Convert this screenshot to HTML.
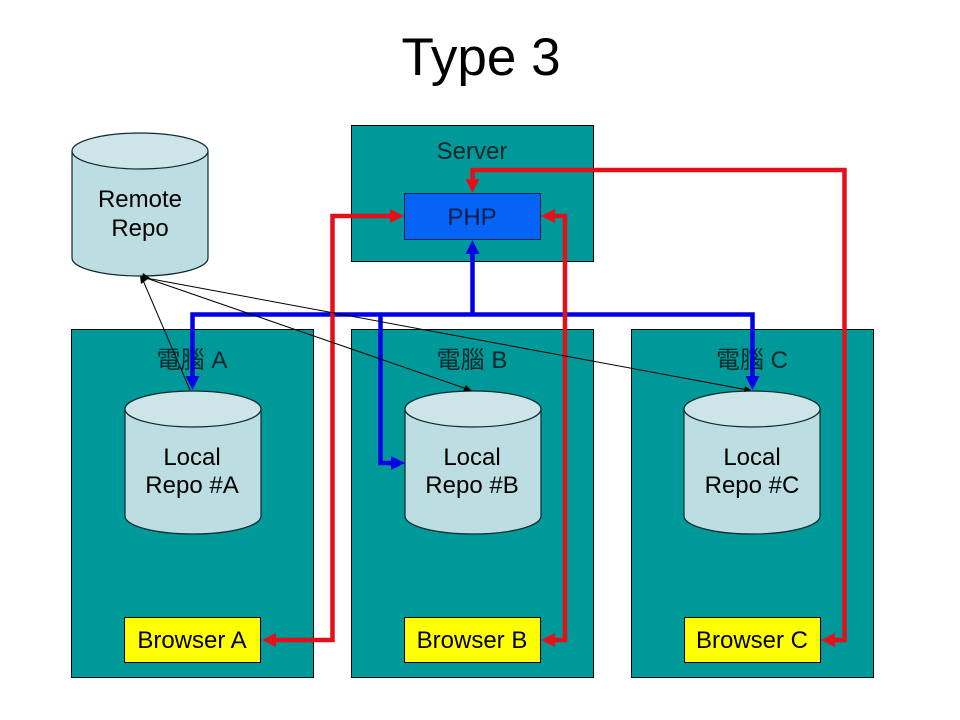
<!DOCTYPE html>
<html>
<head>
<meta charset="utf-8">
<style>
html,body{margin:0;padding:0;background:#fff;width:960px;height:720px;overflow:hidden}
svg{display:block}
text{font-family:"Liberation Sans","Noto Sans CJK TC",sans-serif;fill:#000;text-anchor:middle}
.b{fill:#009999;stroke:#000;stroke-width:1}
.c{fill:#bcdde2;stroke:#0c2a30;stroke-width:1.2}
.t{fill:#cde4e8;stroke:#0c2a30;stroke-width:1.2}
.r{fill:none;stroke:#e3101a;stroke-width:4.500}
.u{fill:none;stroke:#0000e6;stroke-width:4.500}
.k{fill:none;stroke:#000;stroke-width:1}
.l{font-size:24px}
.d{font-size:24px;fill:#03262a}
</style>
</head>
<body>
<svg width="960" height="720" viewBox="0 0 960 720" xmlns="http://www.w3.org/2000/svg">
<text x="481" y="75" font-size="53">Type 3</text>

<rect class="b" x="351.500" y="125.500" width="242" height="136"/>
<rect class="b" x="71.500" y="329.500" width="242" height="348"/>
<rect class="b" x="351.500" y="329.500" width="242" height="348"/>
<rect class="b" x="631.500" y="329.500" width="242" height="348"/>

<text class="d" x="472" y="159">Server</text>
<text class="d" x="192" y="368">電腦 A</text>
<text class="d" x="472" y="368">電腦 B</text>
<text class="d" x="752" y="368">電腦 C</text>

<rect x="404.500" y="193.500" width="136" height="46" fill="#0563f5" stroke="#0a2050"/>
<text class="l" x="472" y="225" style="fill:#06204a">PHP</text>

<!-- Remote cylinder -->
<path class="c" d="M72 151V258C72 268 102 276 140 276S208 268 208 258V151Z"/>
<ellipse class="t" cx="140" cy="151" rx="68" ry="18"/>
<text class="l" x="140" y="207">Remote</text>
<text class="l" x="140" y="236">Repo</text>

<!-- Local cylinders -->
<path class="c" d="M125 409V516C125 526 155 534 193 534S261 526 261 516V409Z"/>
<ellipse class="t" cx="193" cy="409" rx="68" ry="18"/>
<text class="l" x="192" y="465">Local</text>
<text class="l" x="192" y="493">Repo #A</text>

<path class="c" d="M405 409V516C405 526 435 534 473 534S541 526 541 516V409Z"/>
<ellipse class="t" cx="473" cy="409" rx="68" ry="18"/>
<text class="l" x="472" y="465">Local</text>
<text class="l" x="472" y="493">Repo #B</text>

<path class="c" d="M684 409V516C684 526 714 534 752 534S820 526 820 516V409Z"/>
<ellipse class="t" cx="752" cy="409" rx="68" ry="18"/>
<text class="l" x="752" y="465">Local</text>
<text class="l" x="752" y="493">Repo #C</text>

<!-- Browsers -->
<rect x="124.500" y="617.500" width="136" height="45" fill="#ffff00" stroke="#000"/>
<rect x="404.500" y="617.500" width="136" height="45" fill="#ffff00" stroke="#000"/>
<rect x="684.500" y="617.500" width="136" height="45" fill="#ffff00" stroke="#000"/>
<text class="l" x="192" y="648">Browser A</text>
<text class="l" x="472" y="648">Browser B</text>
<text class="l" x="752" y="648">Browser C</text>

<!-- Blue connectors -->
<path class="u" d="M192.500 380V314.500H752.500V380"/>
<path class="u" d="M472.500 314.500V250"/>
<path class="u" d="M380.500 314.500V463H394"/>
<polygon points="472.500,240 465.500,254 479.500,254" fill="#0000e6"/>
<polygon points="192.500,390 185.500,376 199.500,376" fill="#0000e6"/>
<polygon points="752.500,390 745.500,376 759.500,376" fill="#0000e6"/>
<polygon points="405,463 391,456 391,470" fill="#0000e6"/>

<!-- Red connectors -->
<path class="r" d="M272 640H332.500V216H394"/>
<path class="r" d="M551 640H565V216H551"/>
<path class="r" d="M831 640H844.500V170H472.500V183"/>
<polygon points="262,640 276,633 276,647" fill="#e3101a"/>
<polygon points="541,640 555,633 555,647" fill="#e3101a"/>
<polygon points="821,640 835,633 835,647" fill="#e3101a"/>
<polygon points="404,216 390,209 390,223" fill="#e3101a"/>
<polygon points="541,216 555,209 555,223" fill="#e3101a"/>
<polygon points="472.500,193 465.500,179 479.500,179" fill="#e3101a"/>

<!-- Thin black connectors -->
<path class="k" d="M142 278L190 390"/>
<path class="k" d="M146 278L470 390"/>
<path class="k" d="M146 278L748 390"/>
<polygon points="140,276 148,279 141,284" fill="#000"/>
<polygon points="150,278 143,273 141,281" fill="#000"/>
<polygon points="472,391 463,391 466,385" fill="#000"/>
<polygon points="751,390 744,392 745,386" fill="#000"/>
</svg>
</body>
</html>
